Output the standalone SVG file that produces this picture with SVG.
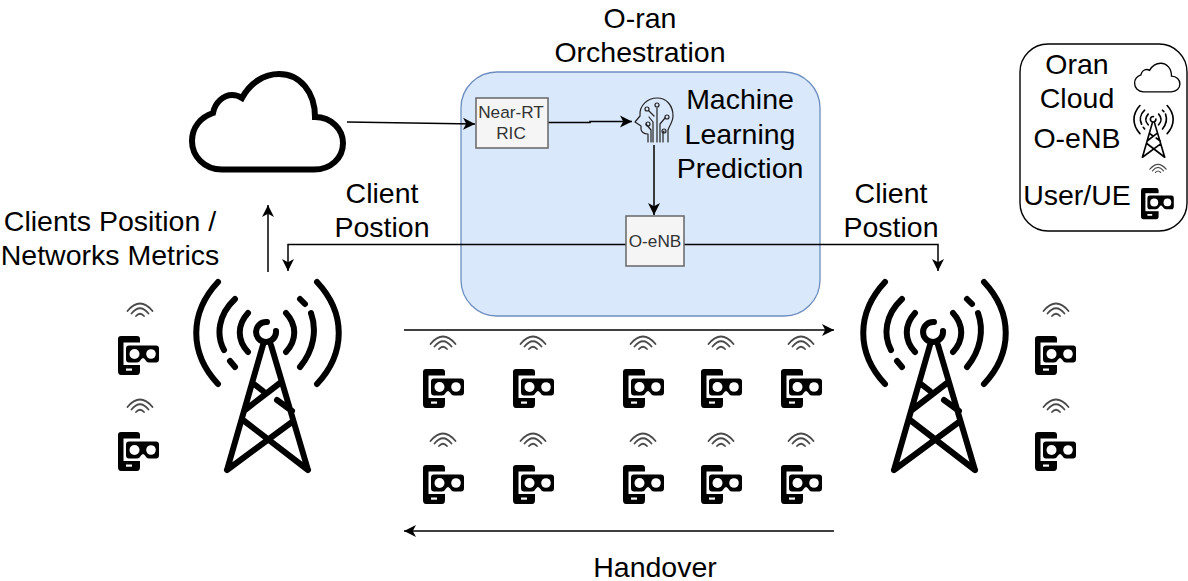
<svg xmlns="http://www.w3.org/2000/svg" xmlns:xlink="http://www.w3.org/1999/xlink" width="1188" height="581" viewBox="0 0 1188 581">
<style>
text{font-family:"Liberation Sans",Arial,sans-serif;font-size:28.500px;fill:#000;text-anchor:middle}
.small{font-size:17.200px;fill:#333}
.conn{fill:none;stroke:#000;stroke-width:1.500}
.proc{fill:#f5f5f5;stroke:#666;stroke-width:1.500}
.tw{fill:none;stroke:#000;stroke-width:6;stroke-linecap:round;stroke-linejoin:round}
.wf{fill:none;stroke:#4a4a4a;stroke-width:1.800;stroke-linecap:round}
.br{fill:none;stroke:#222;stroke-width:1.200;stroke-linecap:round;stroke-linejoin:round}
</style>
<defs>
<marker id="arr" viewBox="0 0 13 13" refX="12" refY="6.500" markerWidth="13" markerHeight="13" markerUnits="userSpaceOnUse" orient="auto"><path d="M0,0.500L12,6.500L0,12.500L3.200,6.500Z" fill="#000"/></marker>
<path id="cloud" d="M222,169.500C204,169.500 192,156 192,141C192,127 201,117 213,113C215,102 224,95 232,95C236,95 239,96 242,98C250,83 264,74 279,74C300,74 315,92 315,117C332,117 343,130 343,143C343,158 331,169.500 314,169.500Z"/>
<g id="tower" class="tw">
<path d="M218,282C189,313 189,353 218,384M317,282C346,313 346,353 317,384"/>
<path d="M235,299C218,315 216,335 224,350M230,361L235,367M300,299L305,304M311,313C317,330 314,350 300,367"/>
<path d="M248,313C237,325 237,340 248,352M286,313C297,325 297,340 286,352"/>
<path d="M276,331A10,10 0 1 1 267,322M276,331A10,10 0 0 1 262,341"/>
<path d="M263,345L227,470M271,345L308,470M243,420L308,470M292,422L227,470M280,383L245,410M254,384L263,391M277,400L292,411"/>
</g>
<g id="ue">
<path d="M3,0H19Q22,0 22,3V35Q22,39 19,39H3Q0,39 0,35V3Q0,0 3,0Z" fill="#000"/>
<rect x="5.500" y="6.500" width="18" height="22.500" fill="#fff"/>
<path d="M11,9.500H38Q41,9.500 41,12.500V23Q41,26.500 38,26.500H31Q28.500,26.500 27,23.500Q25,20.500 23,23.500Q21.500,26.500 19,26.500H11Q8,26.500 8,23V12.500Q8,9.500 11,9.500Z" fill="#000"/>
<circle cx="16.500" cy="18" r="5" fill="#fff"/><circle cx="33" cy="18" r="4.800" fill="#fff"/>
<rect x="8" y="32.500" width="6" height="2.200" fill="#fff"/>
</g>
<g id="wifi" class="wf"><path d="M-12.500,8Q0,-7 12.500,8M-8.500,10.500Q0,0 8.500,10.500M-4,13Q0,8.500 4,13"/></g>
</defs>

<g id="orchestration"><rect x="461" y="72" width="359" height="244" rx="36" fill="#dae8fc" stroke="#6c8ebf" stroke-width="1.300"/>
<text x="640" y="28">O-ran</text><text x="640" y="62">Orchestration</text>
<text x="740" y="109">Machine</text><text x="740" y="144">Learning</text><text x="740" y="178">Prediction</text></g>

<g id="cloud-node"><use xlink:href="#cloud" href="#cloud" fill="#fff" stroke="#000" stroke-width="6"/></g>
<g id="tower-left"><use href="#tower" xlink:href="#tower"/></g>
<g id="tower-right"><use href="#tower" xlink:href="#tower" x="667"/></g>

<g id="connectors">
<path class="conn" marker-end="url(#arr)" d="M347,122L475,124"/>
<path class="conn" marker-end="url(#arr)" d="M548,122.500H590V121.500H632"/>
<path class="conn" marker-end="url(#arr)" d="M654,145V215"/>
<path class="conn" marker-end="url(#arr)" d="M626,244.500H288V271"/>
<path class="conn" marker-end="url(#arr)" d="M684,244.500H938V271"/>
<path class="conn" marker-end="url(#arr)" d="M268,272V205"/>
<path class="conn" marker-end="url(#arr)" d="M404,330H834"/>
<path class="conn" marker-end="url(#arr)" d="M834,531H404"/>
</g>

<g id="near-rt-ric"><rect class="proc" x="476" y="98" width="72" height="50"/><text class="small" x="511" y="118">Near-RT</text><text class="small" x="511" y="139">RIC</text></g>
<g id="o-enb"><rect class="proc" x="626" y="216" width="58" height="50"/><text class="small" x="655" y="247">O-eNB</text></g>
<g id="ml-brain" class="br">
<path d="M648,142V134C643,134 641,131 641,129V126L635,122L640,116C639,105 648,98 657,98C667,98 673,106 673,116C673,122 669,126 668,130V142"/>
<path d="M657,108V142M653,142V122L649,117M660,142V124L665,118M663,142V133L664,131M646,124L651,130V142"/>
<circle cx="657" cy="105" r="2"/><circle cx="647" cy="109" r="2"/><circle cx="667" cy="117" r="2"/><circle cx="648" cy="124" r="2"/><circle cx="664" cy="131" r="2"/><path d="M649,111L654,116"/>
</g>

<g id="labels">
<text x="382" y="203">Client</text><text x="382" y="237">Postion</text>
<text x="891" y="203">Client</text><text x="891" y="237">Postion</text>
<text x="110" y="231">Clients Position /</text><text x="110" y="265">Networks Metrics</text>
<text x="655" y="577">Handover</text>
</g>

<g id="ue-left-1"><use href="#wifi" xlink:href="#wifi" x="140" y="303"/><use href="#ue" xlink:href="#ue" x="118" y="336"/></g>
<g id="ue-left-2"><use href="#wifi" xlink:href="#wifi" x="140" y="399"/><use href="#ue" xlink:href="#ue" x="118" y="432"/></g>
<g id="ue-right-1"><use href="#wifi" xlink:href="#wifi" x="1056" y="303"/><use href="#ue" xlink:href="#ue" x="1035" y="336"/></g>
<g id="ue-right-2"><use href="#wifi" xlink:href="#wifi" x="1056" y="399"/><use href="#ue" xlink:href="#ue" x="1035" y="432"/></g>
<g id="ue-a1"><use href="#wifi" xlink:href="#wifi" x="443" y="336"/><use href="#ue" xlink:href="#ue" x="423" y="369"/></g>
<g id="ue-a2"><use href="#wifi" xlink:href="#wifi" x="533" y="336"/><use href="#ue" xlink:href="#ue" x="513" y="369"/></g>
<g id="ue-a3"><use href="#wifi" xlink:href="#wifi" x="643" y="336"/><use href="#ue" xlink:href="#ue" x="623" y="369"/></g>
<g id="ue-a4"><use href="#wifi" xlink:href="#wifi" x="721" y="336"/><use href="#ue" xlink:href="#ue" x="701" y="369"/></g>
<g id="ue-a5"><use href="#wifi" xlink:href="#wifi" x="801" y="336"/><use href="#ue" xlink:href="#ue" x="781" y="369"/></g>
<g id="ue-b1"><use href="#wifi" xlink:href="#wifi" x="443" y="433"/><use href="#ue" xlink:href="#ue" x="423" y="465"/></g>
<g id="ue-b2"><use href="#wifi" xlink:href="#wifi" x="533" y="433"/><use href="#ue" xlink:href="#ue" x="513" y="465"/></g>
<g id="ue-b3"><use href="#wifi" xlink:href="#wifi" x="643" y="433"/><use href="#ue" xlink:href="#ue" x="623" y="465"/></g>
<g id="ue-b4"><use href="#wifi" xlink:href="#wifi" x="721" y="433"/><use href="#ue" xlink:href="#ue" x="701" y="465"/></g>
<g id="ue-b5"><use href="#wifi" xlink:href="#wifi" x="801" y="433"/><use href="#ue" xlink:href="#ue" x="781" y="465"/></g>

<g id="legend"><rect x="1020" y="44" width="167" height="187" rx="28" fill="#fff" stroke="#000" stroke-width="1.400"/>
<text x="1077" y="74">Oran</text><text x="1077" y="108">Cloud</text><text x="1077" y="148">O-eNB</text><text x="1077" y="205">User/UE</text>
<use href="#cloud" xlink:href="#cloud" transform="translate(1077,41) scale(0.3)" fill="#fff" stroke="#000" stroke-width="4.500"/>
<use href="#tower" xlink:href="#tower" transform="translate(1080,28) scale(0.275)"/>
<use href="#wifi" xlink:href="#wifi" transform="translate(1158,164) scale(0.65)"/>
<use href="#ue" xlink:href="#ue" transform="translate(1141,188) scale(0.8)"/>
</g>
</svg>
